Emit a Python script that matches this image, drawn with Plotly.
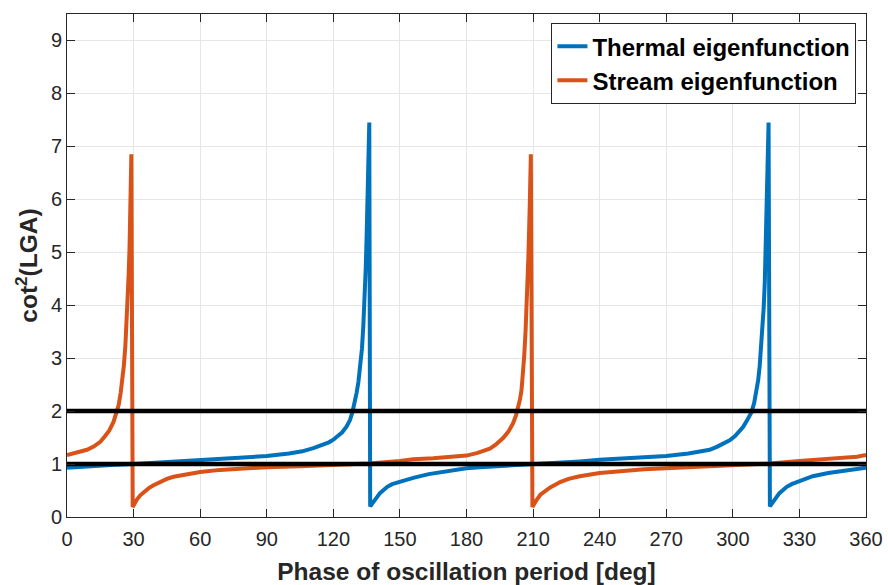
import plotly.graph_objects as go

# ---- data ----
thermal_x = [0, 10, 20, 30, 45, 60, 75, 90, 100, 106, 111, 115, 118, 120, 122, 124, 126, 127.5, 128.6,
             129.6, 130.5, 131.3, 132.1, 132.9, 133.5, 134.1, 134.6, 135.0, 135.4, 135.8, 136.2,
             136.6, 137.2, 138.3, 139.6, 141, 142.5, 144.3, 146.5, 150, 156, 163, 171, 180,
             186, 195, 201, 210, 220, 231, 240, 255, 270, 280, 285, 289.6, 293, 295.5, 298.6, 301, 303,
             304.6, 306.5, 308.4, 309.6, 310.6, 311.4, 312.1, 312.7, 313.3, 313.9, 314.4, 314.8, 315.1,
             315.5, 316.1, 316.7, 317.3, 318.4, 319.6, 321, 322.5, 324.3, 326.5, 330, 336, 343, 351, 360]
thermal_y = [0.93, 0.96, 0.98, 1.00, 1.04, 1.08, 1.11, 1.15, 1.20, 1.24, 1.30, 1.36, 1.41, 1.46, 1.52, 1.60, 1.71, 1.83, 1.98,
             2.15, 2.35, 2.55, 2.85, 3.18, 3.60, 4.11, 4.70, 5.30, 5.90, 6.60, 7.45,
             0.20, 0.23, 0.30, 0.37, 0.45, 0.51, 0.57, 0.62, 0.67, 0.74, 0.81, 0.87, 0.92,
             0.94, 0.96, 0.97, 0.99, 1.02, 1.05, 1.08, 1.11, 1.15, 1.20, 1.23, 1.27, 1.33, 1.39, 1.45, 1.53, 1.62,
             1.70, 1.83, 1.98, 2.15, 2.34, 2.58, 2.85, 3.15, 3.48, 3.95, 4.43, 5.00, 5.69,
             6.40, 7.45, 0.20, 0.23, 0.30, 0.37, 0.45, 0.51, 0.57, 0.62, 0.68, 0.77, 0.83, 0.88, 0.93]

stream_x = [0, 5, 9, 12, 15, 17, 19, 21, 22.3, 23.3, 24.2, 24.9, 25.6, 26.3, 26.8, 27.3, 27.8, 28.2, 28.5, 28.8, 29.0,
            29.6, 30.3, 31.5, 33, 35, 37, 39, 42, 45, 48, 54, 60, 69, 80, 90, 105, 120, 136, 150, 156, 165, 172, 180,
            185, 190.5, 193, 196.5, 199, 201, 202.3, 203.2, 204.1, 204.8, 205.5, 206, 206.6, 207.1, 207.5, 207.9, 208.5, 209.0,
            209.7, 210.4, 211.7, 213.3, 215.5, 217.7, 220, 222.2, 226, 231, 240, 250, 260, 270, 285, 300, 316.7,
            330, 340, 350, 356, 360]
stream_y = [1.17, 1.22, 1.27, 1.33, 1.42, 1.52, 1.63, 1.80, 1.95, 2.12, 2.35, 2.56, 2.85, 3.23, 3.60, 4.05, 4.60, 5.12, 5.70, 6.30, 6.85,
            0.19, 0.25, 0.33, 0.41, 0.49, 0.55, 0.60, 0.67, 0.72, 0.76, 0.81, 0.85, 0.89, 0.92, 0.94, 0.96, 0.98, 1.01, 1.06, 1.09, 1.11, 1.14, 1.16,
            1.21, 1.29, 1.36, 1.49, 1.62, 1.77, 1.92, 2.05, 2.22, 2.40, 2.68, 3.04, 3.50, 3.98, 4.45, 4.93, 5.88, 6.85,
            0.19, 0.25, 0.33, 0.42, 0.50, 0.56, 0.61, 0.66, 0.72, 0.77, 0.83, 0.87, 0.90, 0.92, 0.95, 0.98, 1.01,
            1.06, 1.09, 1.12, 1.14, 1.17]

ref_x = [0, 360]
ref_lines = [1, 2]

x_ticks = list(range(0, 361, 30))
y_ticks = list(range(0, 10))

BLUE = "#0072BD"
ORANGE = "#D95319"
FONT = "Liberation Sans, Arial, Helvetica, sans-serif"
AXC = "#262626"

fig = go.Figure()
fig.add_trace(go.Scatter(x=thermal_x, y=thermal_y, mode="lines", name="Thermal eigenfunction",
                         line=dict(color=BLUE, width=4)))
fig.add_trace(go.Scatter(x=stream_x, y=stream_y, mode="lines", name="Stream eigenfunction",
                         line=dict(color=ORANGE, width=4)))
for v in ref_lines:
    fig.add_trace(go.Scatter(x=ref_x, y=[v, v], mode="lines", showlegend=False,
                             line=dict(color="black", width=4.5), hoverinfo="skip"))

axis_common = dict(showline=True, linecolor=AXC, linewidth=1, mirror="allticks",
                   ticks="inside", ticklen=8, tickcolor=AXC, tickwidth=1,
                   showgrid=True, gridcolor="#e6e6e6", gridwidth=1, zeroline=False,
                   automargin=False,
                   tickfont=dict(family=FONT, size=20, color=AXC))

fig.update_xaxes(range=[0, 360], tickvals=x_ticks, ticktext=[str(t) for t in x_ticks],
                 ticklabelstandoff=4,
                 title=dict(text="Phase of oscillation period [deg]", standoff=13,
                            font=dict(family=FONT, size=24.5, color=AXC, weight="bold")),
                 **axis_common)
fig.update_yaxes(range=[0, 9.5], tickvals=y_ticks, ticktext=[str(t) for t in y_ticks],
                 title=dict(text="cot<sup>2</sup>(LGA)", standoff=6,
                            font=dict(family=FONT, size=24.5, color=AXC, weight="bold")),
                 **axis_common)

fig.update_layout(
    width=888, height=585,
    margin=dict(l=67, r=22, t=14, b=68),
    paper_bgcolor="white", plot_bgcolor="white",
    showlegend=True,
    legend=dict(x=0.988, xanchor="right", y=0.982, yanchor="top",
                bgcolor="white", bordercolor=AXC, borderwidth=1,
                font=dict(family=FONT, size=24, color="black", weight="bold"),
                tracegroupgap=0),
)

fig.write_html("out.html")
